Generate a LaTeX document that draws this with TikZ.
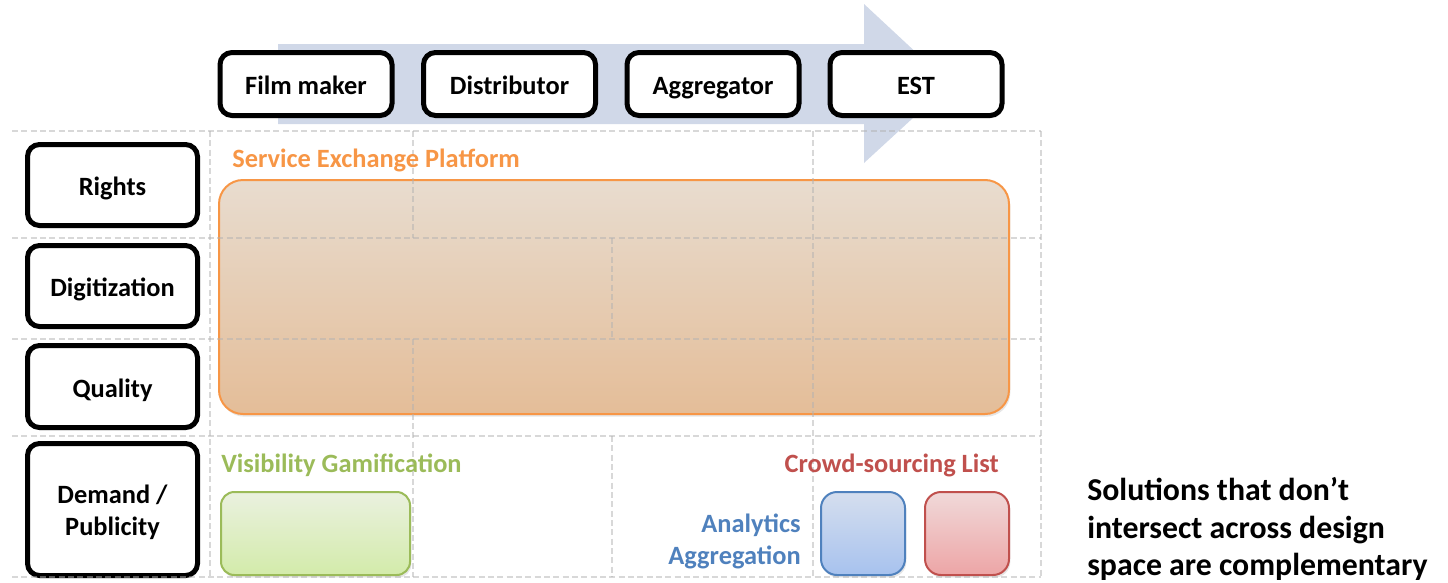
\documentclass[tikz,border=0pt]{standalone}
\usepackage{fontspec}
\setmainfont{Carlito}
\usetikzlibrary{shadows}
\definecolor{arrowc}{HTML}{D0D8E8}
\definecolor{orB}{HTML}{F79646}
\definecolor{orT}{HTML}{E8DCCF}
\definecolor{orD}{HTML}{E4BD98}
\definecolor{grB}{HTML}{9BBB59}
\definecolor{grT}{HTML}{EAF1DF}
\definecolor{grD}{HTML}{D3EBAA}
\definecolor{blB}{HTML}{4F81BD}
\definecolor{blT}{HTML}{D5DEEE}
\definecolor{blD}{HTML}{A7C2EE}
\definecolor{rdB}{HTML}{C0504D}
\definecolor{rdT}{HTML}{F0D9D9}
\definecolor{rdD}{HTML}{EDA5A6}
\tikzset{
  lbl/.style={font=\fontsize{19.8}{24}\selectfont\bfseries, inner sep=0pt},
  blackbox/.style={draw=black, line width=3.75pt, fill=white, rounded corners=9pt,
    align=center, font=\fontsize{19.8}{24}\selectfont\bfseries,
    text height=16pt, text depth=0pt,
    drop shadow={opacity=0.3, shadow xshift=1pt, shadow yshift=-2pt}},
  topbox/.style={blackbox, minimum width={172*0.75pt}, minimum height={63*0.75pt}},
  sidebox/.style={blackbox, minimum width={170*0.75pt}},
  gridline/.style={draw=black!30, draw opacity=0.5, line width=1.5pt, dash pattern=on 4.5pt off 2.5pt},
  softbox/.style={line width=1.5pt, drop shadow={opacity=0.2, shadow xshift=1pt, shadow yshift=-2pt}}
}
\begin{document}
\begin{tikzpicture}[x=0.75pt,y=-0.75pt]
\useasboundingbox (0,0) rectangle (1448,582);
% big arrow
\fill[arrowc] (278,44) -- (864,44) -- (864,4) -- (950,84) -- (864,163) -- (864,124) -- (278,124) -- cycle;
% top boxes
\node[topbox] (fm) at (306,84) {Film maker};
\node[topbox] (di) at (509.5,84) {Distributor};
\node[topbox] (ag) at (713,84) {Aggregator};
\node[topbox] (est) at (916,84) {EST};
% side boxes
\node[sidebox, minimum height={81*0.75pt}] (ri) at (112.5,185) {Rights};
\node[sidebox, minimum height={81*0.75pt}] (dg) at (112.5,286) {Digitization};
\node[sidebox, minimum height={82*0.75pt}] (qu) at (112.5,386.5) {Quality};
\node[sidebox, minimum height={132*0.75pt}] (de) at (112.5,509.5) {};
\node[lbl, align=center] (det) at (112.5,512) {Demand /\\Publicity};
% solution boxes
\draw[softbox, draw=orB, top color=orT, bottom color=orD, rounded corners=18pt] (219,180) rectangle (1009,414);
\draw[softbox, draw=grB, top color=grT, bottom color=grD, rounded corners=10pt] (221,492) rectangle (410,575);
\draw[softbox, draw=blB, top color=blT, bottom color=blD, rounded corners=12pt] (821,492) rectangle (905,575);
\draw[softbox, draw=rdB, top color=rdT, bottom color=rdD, rounded corners=12pt] (925,492) rectangle (1009,575);
% grid
\foreach \yy in {131,238,339,436,577} \draw[gridline] (12,\yy) -- (1041,\yy);
\draw[gridline] (210,131) -- (210,577);
\draw[gridline] (413,131) -- (413,238);
\draw[gridline] (413,339) -- (413,577);
\draw[gridline] (612,238) -- (612,339);
\draw[gridline] (612,436) -- (612,577);
\draw[gridline] (813,131) -- (813,577);
\draw[gridline] (1041,131) -- (1041,577);
% labels
\node[lbl, text=orB, anchor=west] (sep) at (232,160) {Service Exchange Platform};
\node[lbl, text=grB, anchor=west] (vg) at (221,465) {Visibility Gamification};
\node[lbl, text=rdB, anchor=east] (cs) at (999,465) {Crowd-sourcing List};
\node[lbl, text=blB, anchor=east, align=right] (aa) at (801,541) {Analytics\\Aggregation};
\node[inner sep=0pt, anchor=west, align=left, font=\fontsize{23.85}{28.1}\selectfont\bfseries] (sol) at (1087,529)
  {Solutions that don’t\\intersect across design\\space are complementary};
\end{tikzpicture}
\end{document}
